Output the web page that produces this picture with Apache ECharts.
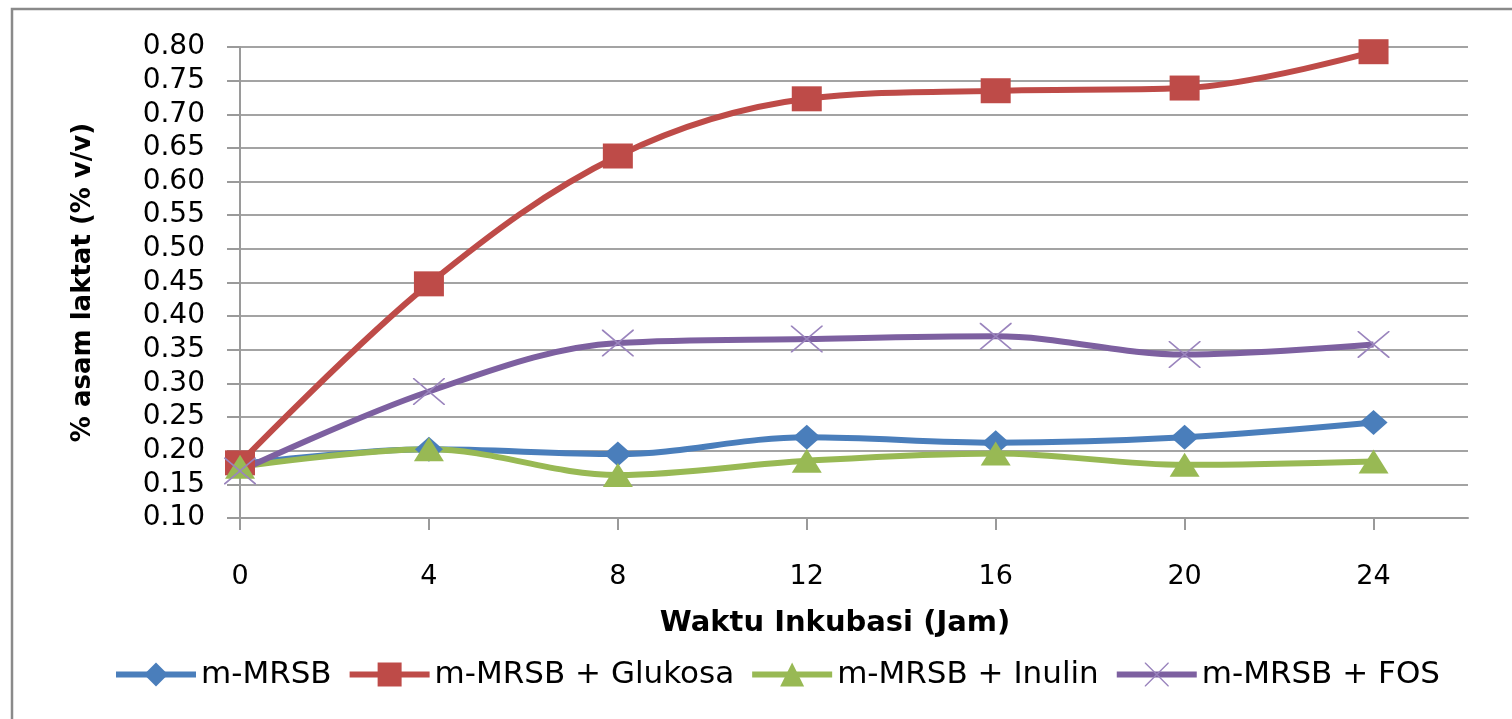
<!DOCTYPE html>
<html>
<head>
<meta charset="utf-8">
<script src="https://cdn.jsdelivr.net/npm/echarts@6/dist/echarts.min.js"></script>
<style>
  html, body { margin: 0; padding: 0; background: #fff; }
  #chart { width: 1512px; height: 719px; }
</style>
</head>
<body>
<div id="chart"></div>
<script>
// Incubation time (hours)
const hours = [0, 4, 8, 12, 16, 20, 24];
const hourTicks = [0, 4, 8, 12, 16, 20, 24];

// Lactic acid (% v/v) per medium
const seriesNames = ['m-MRSB', 'm-MRSB + Glukosa', 'm-MRSB + Inulin', 'm-MRSB + FOS'];
const mrsb     = [0.180, 0.202, 0.195, 0.220, 0.212, 0.220, 0.242];
const glukosa  = [0.182, 0.448, 0.638, 0.723, 0.735, 0.739, 0.793];
const inulin   = [0.176, 0.202, 0.164, 0.185, 0.196, 0.179, 0.184];
const fos      = [0.170, 0.288, 0.360, 0.366, 0.370, 0.343, 0.358];

const colors = ['#4a7ebb', '#be4b48', '#98b954', '#7d60a0'];

// thin "x" glyph for the FOS series
const crossPath = 'path://M0,0L1.6,0L40,38.4L40,40L38.4,40L0,1.6Z M38.4,0L40,0L40,1.6L1.6,40L0,40L0,38.4Z';

const FONT = 'DejaVu Sans';

function pairs(ys) { return hours.map((h, i) => [h, ys[i]]); }

function lineSeries(name, ys, color, symbol, size, symbolColor) {
  return {
    name: name,
    type: 'line',
    data: pairs(ys),
    smooth: 0.35,
    symbol: symbol,
    symbolSize: size,
    showAllSymbol: true,
    lineStyle: { color: color, width: 6 },
    itemStyle: { color: symbolColor || color, borderWidth: 0 },
    emphasis: { disabled: true },
    z: 3
  };
}

const chart = echarts.init(document.getElementById('chart'), null, { renderer: 'canvas' });

chart.setOption({
  animation: false,
  backgroundColor: '#ffffff',
  color: colors,
  textStyle: { fontFamily: FONT, color: '#000' },
  graphic: [{
    type: 'rect',
    shape: { x: 12, y: 9, width: 1530, height: 740 },
    style: { fill: 'none', stroke: '#8a8a8a', lineWidth: 2.5 },
    silent: true,
    z: -1
  }],
  grid: { left: 240, right: 44, top: 47, bottom: 201, containLabel: false },
  xAxis: {
    type: 'value',
    min: 0,
    max: 26,
    interval: 4,
    name: 'Waktu Inkubasi (Jam)',
    nameLocation: 'middle',
    nameGap: 91,
    nameTextStyle: {
      fontFamily: FONT, fontWeight: 'bold', fontSize: 29, color: '#000',
      padding: [0, 38, 0, 0]
    },
    axisLine: { show: true, onZero: false, lineStyle: { color: '#9a9a9a', width: 2 } },
    axisTick: { show: true, length: 12, customValues: hourTicks, lineStyle: { color: '#9a9a9a', width: 2 } },
    axisLabel: { customValues: hourTicks, fontSize: 27, color: '#000', margin: 45, fontFamily: FONT },
    splitLine: { show: false }
  },
  yAxis: {
    type: 'value',
    min: 0.10,
    max: 0.80,
    interval: 0.05,
    name: '% asam laktat (% v/v)',
    nameLocation: 'middle',
    nameGap: 144,
    nameTextStyle: { fontFamily: FONT, fontWeight: 'bold', fontSize: 26, color: '#000' },
    axisLine: { show: true, lineStyle: { color: '#9a9a9a', width: 2 } },
    axisTick: { show: true, length: 13, lineStyle: { color: '#9a9a9a', width: 2 } },
    axisLabel: {
      fontSize: 28, color: '#000', margin: 35, fontFamily: FONT,
      formatter: v => v.toFixed(2)
    },
    splitLine: { show: true, lineStyle: { color: '#a3a3a3', width: 2 } }
  },
  legend: {
    left: 108,
    top: 654,
    itemWidth: 80,
    itemHeight: 30,
    itemGap: 15,
    lineStyle: { width: 6 },
    textStyle: { fontFamily: FONT, fontSize: 31, color: '#000' },
    data: seriesNames
  },
  series: [
    lineSeries(seriesNames[0], mrsb, colors[0], 'diamond', [28, 25]),
    lineSeries(seriesNames[1], glukosa, colors[1], 'rect', [30, 25]),
    lineSeries(seriesNames[2], inulin, colors[2], 'triangle', [30, 24]),
    lineSeries(seriesNames[3], fos, colors[3], crossPath, [32, 27], '#9a84bd')
  ]
});
</script>
</body>
</html>
